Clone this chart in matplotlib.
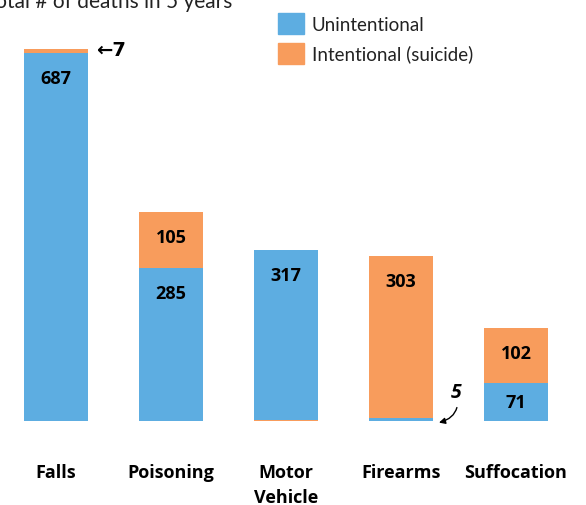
import matplotlib.pyplot as plt
from matplotlib.patches import Patch

categories = ['Falls', 'Poisoning', 'Motor\nVehicle', 'Firearms', 'Suffocation']
unintentional = [687, 285, 317, 5, 71]
intentional = [7, 105, 2, 303, 102]
# motor vehicle draws its tiny suicide sliver under the blue part
orange_first = [False, False, True, False, False]

blue = '#5dade1'
orange = '#f89c5c'
px = 0.536  # pixels per death, used to place labels


def main():
    fig = plt.figure(figsize=(5.86, 5.06), dpi=100)
    ax = fig.add_axes([0, 0, 1, 1])
    x = list(range(len(categories)))

    for i in x:
        u, s = unintentional[i], intentional[i]
        if orange_first[i]:
            ax.bar(i, s, width=0.557, color=orange)
            ax.bar(i, u, bottom=s, width=0.557, color=blue)
        else:
            ax.bar(i, u, width=0.557, color=blue)
            ax.bar(i, s, bottom=u, width=0.557, color=orange)

    # value labels inside segments
    off = 25 / px
    for i in x:
        u, s = unintentional[i], intentional[i]
        if u > 50:
            top = u + (s if orange_first[i] else 0)
            ax.text(i, top - min(off, u / 2), str(u), ha='center', va='center',
                    fontsize=13, fontweight='bold', family='Open Sans')
        if s > 50:
            top = u + s
            ax.text(i, top - min(off, s / 2), str(s), ha='center', va='center',
                    fontsize=13, fontweight='bold', family='Open Sans')

    # small value callouts
    ax.text(0.35, unintentional[0] + intentional[0], '\u2190' + str(intentional[0]),
            ha='left', va='center', fontsize=14, fontweight='bold', family='DejaVu Sans')
    ax.annotate(str(unintentional[3]), xy=(3.33, unintentional[3] - 8),
                xytext=(3.48, 54), ha='center', va='center',
                fontsize=14, fontweight='bold', fontstyle='italic', family='Open Sans',
                arrowprops=dict(arrowstyle='-|>', color='black', lw=1,
                                connectionstyle='arc3,rad=-0.5',
                                shrinkA=2, shrinkB=0, mutation_scale=9))

    for i in x:
        ax.text(i, -79, categories[i], ha='center', va='top', fontsize=13,
                fontweight='bold', family='Open Sans', linespacing=1.45)

    ax.text(176 / 115, 784, 'Total # of deaths in 5 years', ha='right', va='center',
            fontsize=15, family='Lato', color='#222222')

    handles = [Patch(color=blue, label='Unintentional'),
               Patch(color=orange, label='Intentional (suicide)')]
    ax.legend(handles=handles, loc='upper left', bbox_to_anchor=(0.446, 1.005),
              frameon=False, handlelength=1.35, handleheight=1.35,
              handletextpad=0.45, labelspacing=0.45,
              prop={'family': 'Lato', 'size': 13.5})
    for t in ax.get_legend().get_texts():
        t.set_color('#222222')

    ax.set_xlim(-56 / 115, (586 - 56) / 115)
    ax.set_ylim(-(506 - 422) / px, 422 / px)
    ax.axis('off')
    fig.savefig('out.png', dpi=100)


if __name__ == "__main__":
    main()
